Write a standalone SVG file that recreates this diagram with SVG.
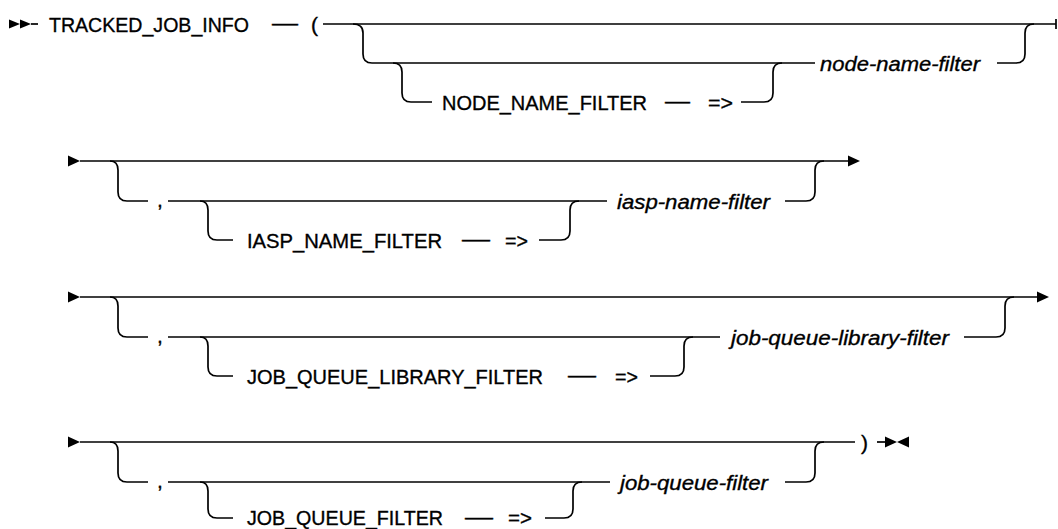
<svg xmlns="http://www.w3.org/2000/svg" width="1058" height="529" viewBox="0 0 1058 529">
<style>
.t{font-family:"Liberation Sans",Arial,sans-serif;font-size:21px;fill:#000;stroke:#000;stroke-width:0.35}
.v{font-style:italic}
.c{fill:none;stroke:#000;stroke-width:1.7}
.a{fill:#000}
</style>
<rect width="1058" height="529" fill="#fff"/>
<g id="connectors">
<!-- row 1 -->
<polygon class="a" points="9,19.5 20,24 9,28.5"/>
<polygon class="a" points="20,19.5 31,24 20,28.5"/>
<path class="c" d="M31,24 H38"/>
<path class="c" d="M323,24 H1056 M1056,19 V29"/>
<path class="c" d="M353,24 Q363,24 363,33 V54 Q363,63 372,63 H815"/>
<path class="c" d="M997,63 H1016 Q1025,63 1025,54 V33 Q1025,24 1034,24"/>
<path class="c" d="M393,63 Q402,63 402,72 V93 Q402,102 411,102 H432"/>
<path class="c" d="M741,102 H764 Q773,102 773,93 V72 Q773,63 782,63"/>
<!-- row 2 -->
<polygon class="a" points="68,155.5 80,161 68,166.5"/>
<path class="c" d="M80,161 H848"/>
<polygon class="a" points="848,155.5 860,161 848,166.5"/>
<path class="c" d="M110,161 Q118,161 118,170 V192 Q118,201 127,201 H148"/>
<path class="c" d="M168,201 H607"/>
<path class="c" d="M200,201 Q208,201 208,210 V231 Q208,240 217,240 H233"/>
<path class="c" d="M539,240 H561 Q570,240 570,231 V210 Q570,201 579,201"/>
<path class="c" d="M785,201 H806 Q815,201 815,192 V170 Q815,161 824,161"/>
<!-- row 3 -->
<polygon class="a" points="68,291.5 80,297 68,302.5"/>
<path class="c" d="M80,297 H1037"/>
<polygon class="a" points="1037,291.5 1049,297 1037,302.5"/>
<path class="c" d="M110,297 Q118,297 118,306 V328 Q118,337 127,337 H148"/>
<path class="c" d="M168,337 H720"/>
<path class="c" d="M200,337 Q208,337 208,346 V367 Q208,376 217,376 H233"/>
<path class="c" d="M650,376 H675 Q684,376 684,367 V346 Q684,337 693,337"/>
<path class="c" d="M964,337 H996 Q1005,337 1005,328 V306 Q1005,297 1014,297"/>
<!-- row 4 -->
<polygon class="a" points="68,436.5 80,442 68,447.5"/>
<path class="c" d="M80,442 H855"/>
<path class="c" d="M110,442 Q118,442 118,451 V473 Q118,482 127,482 H148"/>
<path class="c" d="M168,482 H610"/>
<path class="c" d="M200,482 Q208,482 208,491 V509 Q208,518 217,518 H233"/>
<path class="c" d="M545,518 H564 Q573,518 573,509 V491 Q573,482 582,482"/>
<path class="c" d="M785,482 H806 Q815,482 815,473 V451 Q815,442 824,442"/>
<path class="c" d="M877,442 H886"/>
<polygon class="a" points="885,436.5 897,442 885,447.5"/>
<polygon class="a" points="909,436.5 897,442 909,447.5"/>
</g>
<g id="n-tracked"><text class="t" x="49" y="31.5" textLength="200" lengthAdjust="spacingAndGlyphs">TRACKED_JOB_INFO</text></g>
<g id="n-dash0"><text class="t" x="272" y="30" textLength="26" lengthAdjust="spacingAndGlyphs">—</text></g>
<g id="n-lparen"><text class="t" x="311" y="31.5">(</text></g>
<g id="n-node-kw"><text class="t" x="442" y="109.5" textLength="205" lengthAdjust="spacingAndGlyphs">NODE_NAME_FILTER</text></g>
<g id="n-dash1"><text class="t" x="665" y="108" textLength="25" lengthAdjust="spacingAndGlyphs">—</text></g>
<g id="n-arrow1"><text class="t" x="708" y="109.5" textLength="25" lengthAdjust="spacingAndGlyphs">=&gt;</text></g>
<g id="n-node-var"><text class="t v" x="820" y="70.5" textLength="160" lengthAdjust="spacingAndGlyphs">node-name-filter</text></g>
<g id="n-comma2"><text class="t" x="157" y="207">,</text></g>
<g id="n-iasp-kw"><text class="t" x="247" y="247.5" textLength="195" lengthAdjust="spacingAndGlyphs">IASP_NAME_FILTER</text></g>
<g id="n-dash2"><text class="t" x="462" y="246" textLength="28" lengthAdjust="spacingAndGlyphs">—</text></g>
<g id="n-arrow2"><text class="t" x="505" y="247.5" textLength="23" lengthAdjust="spacingAndGlyphs">=&gt;</text></g>
<g id="n-iasp-var"><text class="t v" x="617" y="208.5" textLength="153" lengthAdjust="spacingAndGlyphs">iasp-name-filter</text></g>
<g id="n-comma3"><text class="t" x="157" y="343">,</text></g>
<g id="n-jql-kw"><text class="t" x="247" y="383.5" textLength="296" lengthAdjust="spacingAndGlyphs">JOB_QUEUE_LIBRARY_FILTER</text></g>
<g id="n-dash3"><text class="t" x="568" y="382" textLength="28" lengthAdjust="spacingAndGlyphs">—</text></g>
<g id="n-arrow3"><text class="t" x="615" y="383.5" textLength="23" lengthAdjust="spacingAndGlyphs">=&gt;</text></g>
<g id="n-jql-var"><text class="t v" x="731" y="344.5" textLength="218" lengthAdjust="spacingAndGlyphs">job-queue-library-filter</text></g>
<g id="n-comma4"><text class="t" x="157" y="488">,</text></g>
<g id="n-jq-kw"><text class="t" x="247" y="525" textLength="196" lengthAdjust="spacingAndGlyphs">JOB_QUEUE_FILTER</text></g>
<g id="n-dash4"><text class="t" x="465" y="523.5" textLength="28" lengthAdjust="spacingAndGlyphs">—</text></g>
<g id="n-arrow4"><text class="t" x="508" y="525" textLength="24" lengthAdjust="spacingAndGlyphs">=&gt;</text></g>
<g id="n-jq-var"><text class="t v" x="620" y="489.5" textLength="148" lengthAdjust="spacingAndGlyphs">job-queue-filter</text></g>
<g id="n-rparen"><text class="t" x="861" y="449.5">)</text></g>
</svg>
